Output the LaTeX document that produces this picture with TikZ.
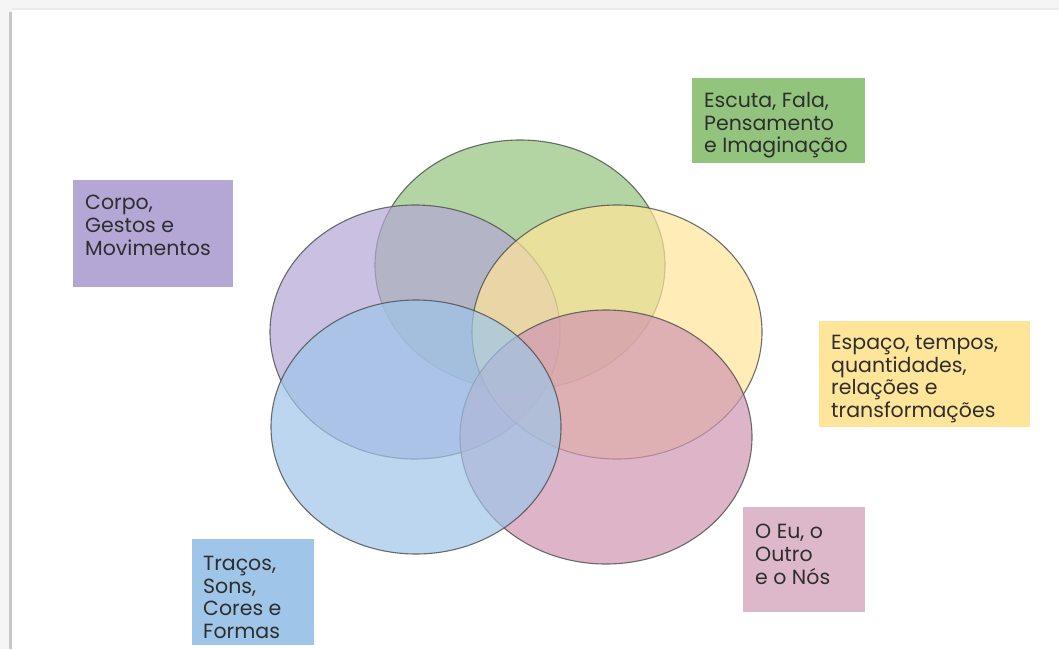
\documentclass[tikz,border=0pt]{standalone}
\usepackage{fontspec}
\setmainfont{Poppins}

\definecolor{field green}{HTML}{93C47D}
\definecolor{field purple}{HTML}{B4A7D6}
\definecolor{field yellow}{HTML}{FFE599}
\definecolor{field blue}{HTML}{9FC5E8}
\definecolor{field pink}{HTML}{D097B2}
\definecolor{box pink}{HTML}{DDB8CA}
\colorlet{ellipse edge}{black!70}
\colorlet{label text}{black!82}

\def\greenfield{(520,265) ellipse [x radius=145pt, y radius=125pt]}
\def\purplefield{(415,332) ellipse [x radius=145pt, y radius=127pt]}
\def\yellowfield{(617,332) ellipse [x radius=145pt, y radius=127pt]}
\def\bluefield{(416,427) ellipse [x radius=145pt, y radius=127pt]}
\def\pinkfield{(606,437) ellipse [x radius=146pt, y radius=127pt]}

\tikzset{
  field/.style={fill=#1, fill opacity=0.7, draw=ellipse edge, draw opacity=0.8, line width=1.1pt},
  fieldbox/.style={fill=#1, anchor=north west, inner sep=0pt},
  fieldtext/.style={anchor=north west, inner sep=0pt, align=left, text=label text,
    font=\fontsize{20.5}{22.7}\selectfont}
}

\begin{document}
\begin{tikzpicture}[x=1pt, y=-1pt]
  % page with its shadow
  \fill[black!4] (0,0) rectangle (1059,649);
  \fill[black!22] (9,12) rectangle (13,649);
  \fill[black!8] (12,8) rectangle (1059,11);
  \fill[white] (12,10) rectangle (1059,649);
  \useasboundingbox (0,0) rectangle (1059,649);

  \draw[field=field green] \greenfield;
  \draw[field=field purple] \purplefield;
  \draw[field=field yellow] \yellowfield;
  \draw[field=field pink] \pinkfield;
  \draw[field=field blue] \bluefield;

  % label boxes
  \node[fieldbox=field green, minimum width=173pt, minimum height=85pt] (escuta) at (692,78) {};
  \node[fieldbox=field purple, minimum width=160pt, minimum height=107pt] (corpo) at (73,180) {};
  \node[fieldbox=field yellow, minimum width=211pt, minimum height=106pt] (espaco) at (819,321) {};
  \node[fieldbox=field blue, minimum width=122pt, minimum height=106pt] (tracos) at (192,539) {};
  \node[fieldbox=box pink, minimum width=122pt, minimum height=105pt] (eu) at (743,507) {};

  \node[fieldtext] (escuta text) at ([shift={(12pt,-14pt)}]escuta.north west) {Escuta, Fala,\\Pensamento\\e Imaginação};
  \node[fieldtext] (corpo text) at ([shift={(12pt,-15pt)}]corpo.north west) {Corpo,\\Gestos e\\Movimentos};
  \node[fieldtext] (espaco text) at ([shift={(12pt,-14pt)}]espaco.north west) {Espaço, tempos,\\quantidades,\\relações e\\transformações};
  \node[fieldtext] (tracos text) at ([shift={(11pt,-17pt)}]tracos.north west) {Traços,\\Sons,\\Cores e\\Formas};
  \node[fieldtext] (eu text) at ([shift={(12pt,-17pt)}]eu.north west) {O Eu, o\\Outro\\e o Nós};
\end{tikzpicture}
\end{document}
